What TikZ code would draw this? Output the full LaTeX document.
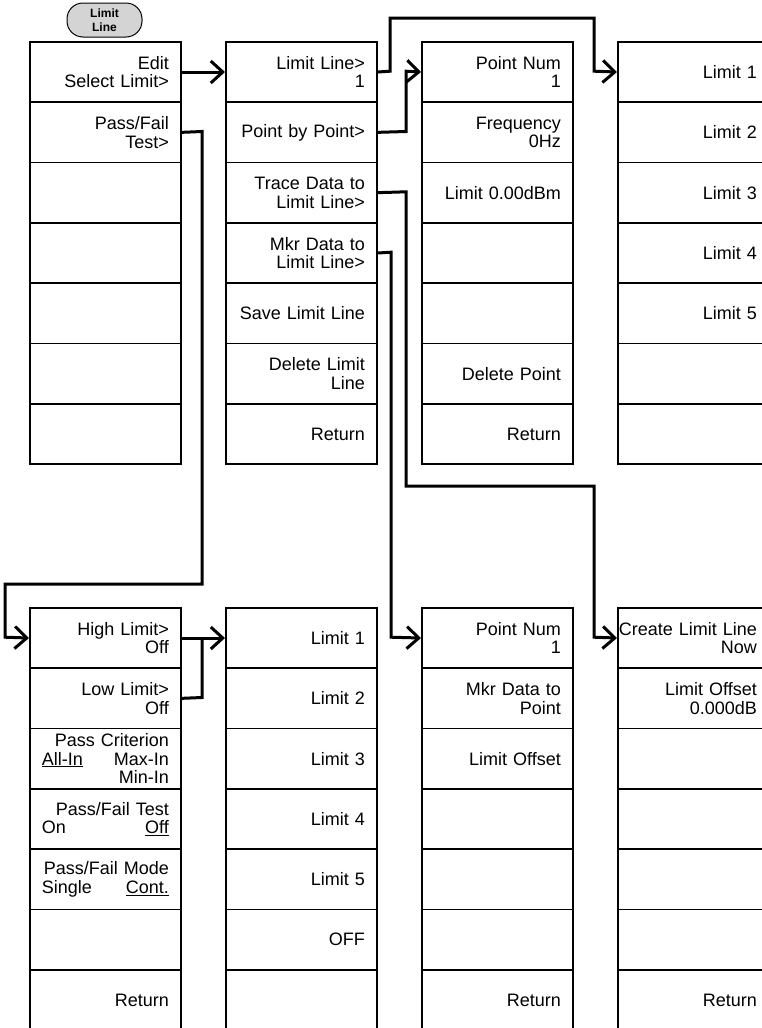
\documentclass[tikz,border=0pt]{standalone}
\usepackage{fontspec}
\setmainfont{Liberation Sans}
\usetikzlibrary{arrows.meta}
\newcommand\cellfont{\fontsize{18}{18.5}\selectfont}
\newcommand\lrline[2]{\leavevmode\hbox to\linewidth{#1\hfil #2}}
\tikzset{
  cell/.style={draw, line width=1.7pt, minimum width=151pt, minimum height=60.33pt,
    text width=127pt, inner xsep=12pt, inner ysep=0pt, align=right,
    anchor=north west, font=\cellfont},
  conn/.style={line width=3pt},
  arr/.style={line width=3pt, -{Straight Barb[length=12pt,width=22pt]}},
  btn/.style={draw, line width=1pt, fill=black!17, rounded corners=16pt,
    minimum width=75pt, minimum height=34pt, inner sep=0pt, align=center,
    font=\bfseries\fontsize{12}{14.3}\selectfont}
}
\begin{document}
\begin{tikzpicture}[x=1pt, y=-1pt]
\useasboundingbox (0,0) rectangle (762,1028);
\clip (0,0) rectangle (762,1028);
% button
\node[btn] (btn) at (104.5,20) {Limit\\Line};
% top columns
\foreach \t [count=\i] in {{Edit\\Select Limit>},{Pass/Fail\\Test>},{},{},{},{},{}}
  \node[cell] (a\i) at (29,{41+(\i-1)*60.33}) {\t};
\foreach \t [count=\i] in {{Limit Line>\\1},{Point by Point>},{Trace Data to\\Limit Line>},{Mkr Data to\\Limit Line>},{Save Limit Line},{Delete Limit\\Line},{Return}}
  \node[cell] (b\i) at (225,{41+(\i-1)*60.33}) {\t};
\foreach \t [count=\i] in {{Point Num\\1},{Frequency\\0Hz},{Limit 0.00dBm},{},{},{Delete Point},{Return}}
  \node[cell] (c\i) at (421,{41+(\i-1)*60.33}) {\t};
\foreach \t [count=\i] in {{Limit 1},{Limit 2},{Limit 3},{Limit 4},{Limit 5},{},{}}
  \node[cell] (d\i) at (617,{41+(\i-1)*60.33}) {\t};
% bottom columns
\foreach \t [count=\i] in {{High Limit>\\Off},{Low Limit>\\Off},{Pass Criterion\\\lrline{\underline{All-In}}{Max-In}\\Min-In},{Pass/Fail Test\\\lrline{On}{\underline{Off}}},{Pass/Fail Mode\\\lrline{Single}{\underline{Cont.}}},{},{Return}}
  \node[cell] (e\i) at (29,{607+(\i-1)*60.33}) {\t};
\foreach \t [count=\i] in {{Limit 1},{Limit 2},{Limit 3},{Limit 4},{Limit 5},{OFF},{}}
  \node[cell] (f\i) at (225,{607+(\i-1)*60.33}) {\t};
\foreach \t [count=\i] in {{Point Num\\1},{Mkr Data to\\Point},{Limit Offset},{},{},{},{Return}}
  \node[cell] (g\i) at (421,{607+(\i-1)*60.33}) {\t};
\foreach \t [count=\i] in {{\makebox[\linewidth][r]{Create Limit Line}\\Now},{Limit Offset\\0.000dB},{},{},{},{},{Return}}
  \node[cell] (h\i) at (617,{607+(\i-1)*60.33}) {\t};
% bend coordinates
\coordinate (p1) at (202,131.5);
\coordinate (p2) at (202,584);
\coordinate (p3) at (5,584);
\coordinate (p4) at (5,637.2);
\coordinate (q1) at (390,71.2);
\coordinate (q2) at (390,18);
\coordinate (q3) at (594,18);
\coordinate (q4) at (594,71.2);
\coordinate (r1) at (406,131.5);
\coordinate (r2) at (406,71.2);
\coordinate (s1) at (406,191.8);
\coordinate (s2) at (406,486);
\coordinate (s3) at (594,486);
\coordinate (s4) at (594,637.2);
\coordinate (t1) at (391,252.2);
\coordinate (t2) at (391,637.2);
\coordinate (u1) at (202,697.5);
\coordinate (u2) at (202,637.2);
% connectors
\draw[arr] (a1.east) -- (b1.west);
\draw[arr] (a2.east) -- (p1) -- (p2) -- (p3) -- (p4) -- (e1.west);
\draw[arr] (b1.east) -- (q1) -- (q2) -- (q3) -- (q4) -- (d1.west);
\draw[arr] (b2.east) -- (r1) -- (r2) -- (c1.west);
\draw[arr] (b3.east) -- (s1) -- (s2) -- (s3) -- (s4) -- (h1.west);
\draw[arr] (b4.east) -- (t1) -- (t2) -- (g1.west);
\draw[arr] (e1.east) -- (f1.west);
\draw[conn] (e2.east) -- (u1) -- (u2);
\end{tikzpicture}
\end{document}
